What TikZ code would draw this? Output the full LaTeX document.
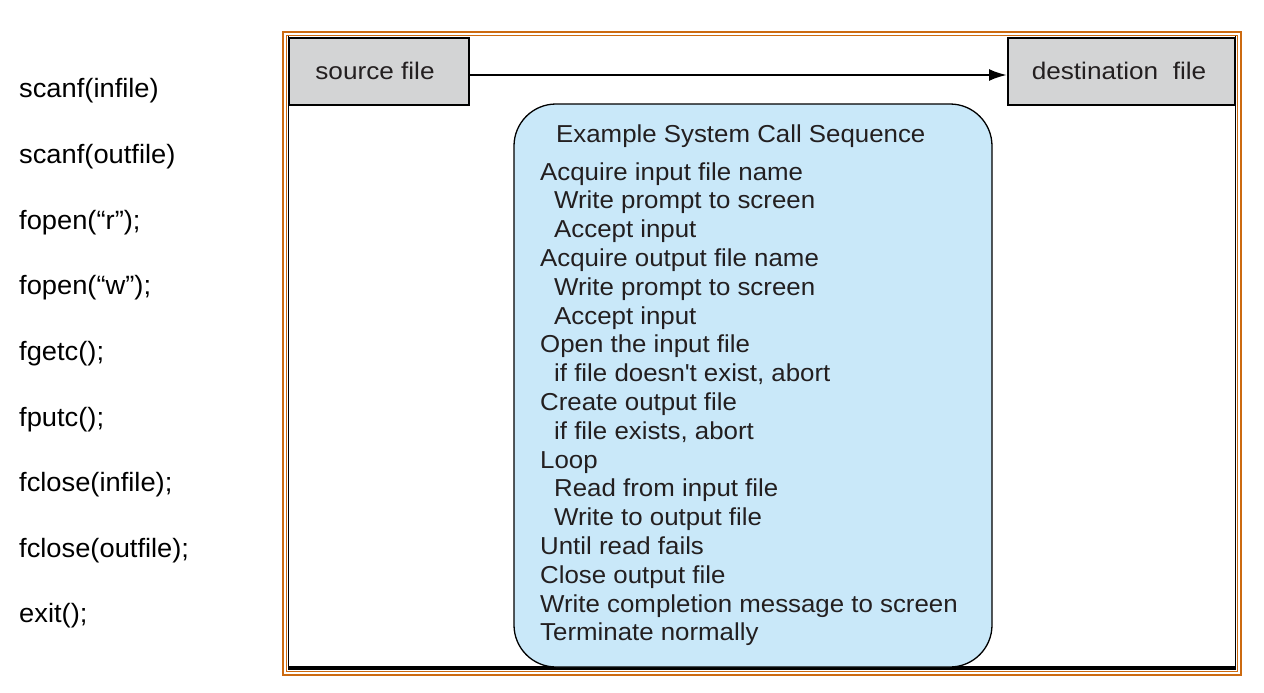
\documentclass[tikz,border=0pt]{standalone}
\usepackage{fontspec}
\setmainfont{Liberation Sans}
\newfontfamily\seqfont[FakeStretch=1.055]{Liberation Sans}
\newfontfamily\filefont[FakeStretch=1.09]{Liberation Sans}
\newfontfamily\callfont[FakeStretch=1.03]{Liberation Sans}
\usetikzlibrary{arrows.meta}
\definecolor{frameorange}{HTML}{CC6A10}
\definecolor{boxgray}{HTML}{D3D4D5}
\definecolor{seqblue}{HTML}{C9E8F9}
\definecolor{inktext}{HTML}{231F20}
\tikzset{
  call/.style={anchor=base west,inner sep=0pt,font=\callfont\fontsize{26.5}{30}\selectfont,text=black},
  seqline/.style={anchor=base west,inner sep=0pt,font=\seqfont\fontsize{24.5}{28}\selectfont,text=inktext},
  filebox/.style={draw=black,line width=2pt,fill=boxgray,inner sep=0pt},
  filetext/.style={anchor=base,inner sep=0pt,font=\filefont\fontsize{24}{28}\selectfont,text=inktext},
}
\begin{document}
\begin{tikzpicture}[x=1pt,y=-1pt]
\useasboundingbox (0,0) rectangle (1264,693);
% orange double frame
\draw[frameorange,line width=1.6pt] (283,32) rectangle (1241,675);
\draw[frameorange,line width=1.6pt] (286.5,35.5) rectangle (1237.5,671.5);
% inner black frame
\draw[black,line width=1.2pt] (288.5,36) -- (288.5,668);
\draw[black,line width=1.2pt] (1235.5,36) -- (1235.5,668);
\draw[black,line width=3.5pt] (288,668) -- (1236,668);
% file boxes
\node[filebox,minimum width=180pt,minimum height=67pt] (src) at (378.5,71.5) {};
\node[filebox,minimum width=227pt,minimum height=67pt] (dst) at (1121.5,71.5) {};
\node[filetext] (srct) at (375,80) {source file};
\node[filetext] (dstt) at (1119,80) {destination\ \ file};
\draw[line width=2.4pt,-{Latex[length=18pt,width=12pt]}] (src.east |- 0,75) -- (dst.west |- 0,75);
% rounded sequence box
\node[draw=black,line width=1.3pt,fill=seqblue,rounded corners=42pt,minimum width=478pt,minimum height=563pt,inner sep=0pt] (seq) at (753,385.5) {};
% title and lines
\node[seqline] (title) at (556,142) {Example System Call Sequence};
\foreach \t/\x [count=\i from 0] in {
  Acquire input file name/540,
  Write prompt to screen/554,
  Accept input/554,
  Acquire output file name/540,
  Write prompt to screen/554,
  Accept input/554,
  Open the input file/540,
  if file doesn\textquotesingle t exist{,} abort/554,
  Create output file/540,
  if file exists{,} abort/554,
  Loop/540,
  Read from input file/554,
  Write to output file/554,
  Until read fails/540,
  Close output file/540,
  Write completion message to screen/540,
  Terminate normally/540}
  \node[seqline] (s\i) at (\x,180+28.8*\i) {\t};
% left column of calls
\foreach \t [count=\i from 0] in {
  scanf(infile),
  scanf(outfile),
  fopen(“r”);,
  fopen(“w”);,
  fgetc();,
  fputc();,
  fclose(infile);,
  fclose(outfile);,
  exit();}
  \node[call] (c\i) at (19,98+65.6*\i) {\t};
\end{tikzpicture}
\end{document}
